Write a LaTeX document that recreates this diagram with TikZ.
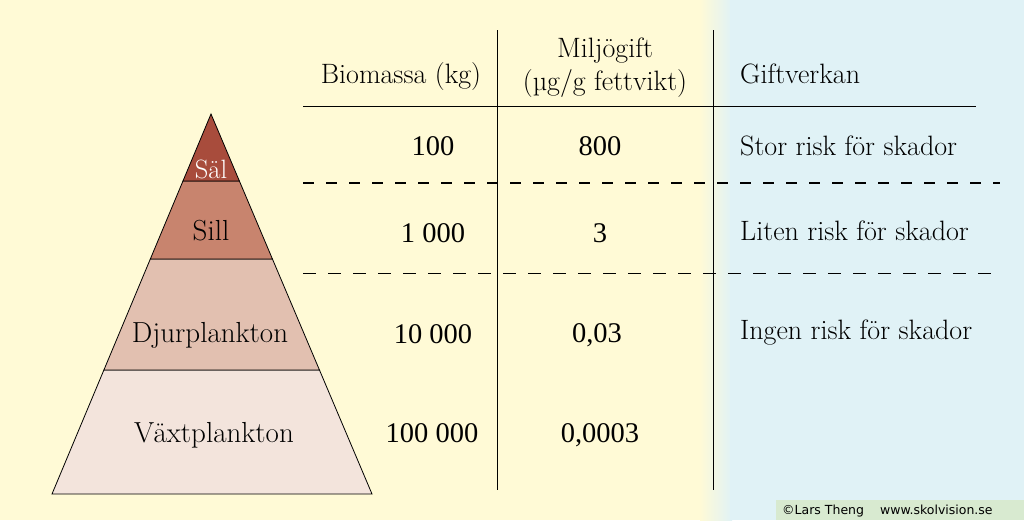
\documentclass[tikz,border=0pt]{standalone}
\usepackage{fontspec}
\usetikzlibrary{calc}
\newfontfamily\numfont{Liberation Serif}
\newfontfamily\creditfont{DejaVu Sans}

\definecolor{bgyellow}{RGB}{255,250,214}
\definecolor{bgblue}{RGB}{224,242,246}
\definecolor{salcol}{RGB}{168,76,60}
\definecolor{sillcol}{RGB}{200,132,110}
\definecolor{djurcol}{RGB}{226,192,176}
\definecolor{vaxtcol}{RGB}{243,228,220}
\definecolor{creditcol}{RGB}{216,234,208}

\begin{document}
\begin{tikzpicture}[x=1pt,y=-1pt,
    txt/.style={font=\fontsize{28}{32}\selectfont,inner sep=0pt,anchor=base},
    pyr/.style={font=\fontsize{29}{33}\selectfont,inner sep=0pt,anchor=base},
    num/.style={font=\numfont\fontsize{28.5}{32}\selectfont,inner sep=0pt,anchor=base},
    band/.style={draw=black,line width=0.8pt},
    rule/.style={line width=1pt},
    thickdash/.style={line width=2pt,dash pattern=on 11pt off 12pt},
    thindash/.style={line width=1pt,dash pattern=on 13pt off 12pt}]

   \useasboundingbox (0,0) rectangle (1024,520);

   % bakgrund
   \fill[bgyellow] (0,0) rectangle (702,520);
   \shade[left color=bgyellow,right color=bgblue] (700,0) rectangle (732,520);
   \fill[bgblue] (730,0) rectangle (1024,520);

   % pyramiden
   \coordinate (top) at (211,114);
   \coordinate (bl) at (52,494);
   \coordinate (br) at (372,494);
   \coordinate (s1l) at ($(top)!0.1763!(bl)$);
   \coordinate (s1r) at ($(top)!0.1763!(br)$);
   \coordinate (s2l) at ($(top)!0.3816!(bl)$);
   \coordinate (s2r) at ($(top)!0.3816!(br)$);
   \coordinate (s3l) at ($(top)!0.6737!(bl)$);
   \coordinate (s3r) at ($(top)!0.6737!(br)$);

   \filldraw[band,fill=vaxtcol] (s3l) -- (s3r) -- (br) -- (bl) -- cycle;
   \filldraw[band,fill=djurcol] (s2l) -- (s2r) -- (s3r) -- (s3l) -- cycle;
   \filldraw[band,fill=sillcol] (s1l) -- (s1r) -- (s2r) -- (s2l) -- cycle;
   \filldraw[band,fill=salcol] (top) -- (s1r) -- (s1l) -- cycle;

   \node[pyr,white,font=\fontsize{26.5}{30}\selectfont] (sal) at (211,178) {Säl};
   \node[pyr] (sill) at (211,240) {Sill};
   \node[pyr] (djur) at (210,342) {Djurplankton};
   \node[pyr] (vaxt) at (214,442) {Växtplankton};

   % tabellens linjer
   \coordinate (v1a) at (497,30);  \coordinate (v1b) at (497,490);
   \coordinate (v2a) at (713,30);  \coordinate (v2b) at (713,490);
   \coordinate (h1a) at (303,106); \coordinate (h1b) at (976,106);
   \coordinate (h2a) at (303,183); \coordinate (h2b) at (1000,183);
   \coordinate (h3a) at (303,273); \coordinate (h3b) at (1000,273);

   \draw[rule] (v1a) -- (v1b);
   \draw[rule] (v2a) -- (v2b);
   \draw[rule] (h1a) -- (h1b);
   \draw[thickdash] (h2a) -- (h2b);
   \draw[thindash] (h3a) -- (h3b);

   % rubriker
   \node[txt] (biohead) at (401,83) {Biomassa (kg)};
   \node[txt] (miljohead) at (605,57) {Miljögift};
   \node[txt] (enhet) at (605,90) {(µg/g fettvikt)};
   \node[txt,anchor=base west] (gifthead) at (740,83) {Giftverkan};

   % rader
   \node[num] (bio1) at (433,155) {100};
   \node[num] (mil1) at (600,155) {800};
   \node[txt,anchor=base west] (eff1) at (740,155) {Stor risk för skador};

   \node[num] (bio2) at (433,242) {1 000};
   \node[num] (mil2) at (600,242) {3};
   \node[txt,anchor=base west] (eff2) at (740,240) {Liten risk för skador};

   \node[num] (bio3) at (433,343) {10 000};
   \node[num] (mil3) at (597,342) {0,03};
   \node[txt,anchor=base west] (eff3) at (740,339) {Ingen risk för skador};

   \node[num] (bio4) at (432,442) {100 000};
   \node[num] (mil4) at (600,442) {0,0003};

   % upphov
   \fill[creditcol] (776,500) rectangle (1024,520);
   \node[inner sep=0pt,anchor=base west,font=\creditfont\fontsize{12.5}{14}\selectfont]
     (credit) at (782,514) {©Lars Theng\hspace{16pt}www.skolvision.se};

\end{tikzpicture}
\end{document}
